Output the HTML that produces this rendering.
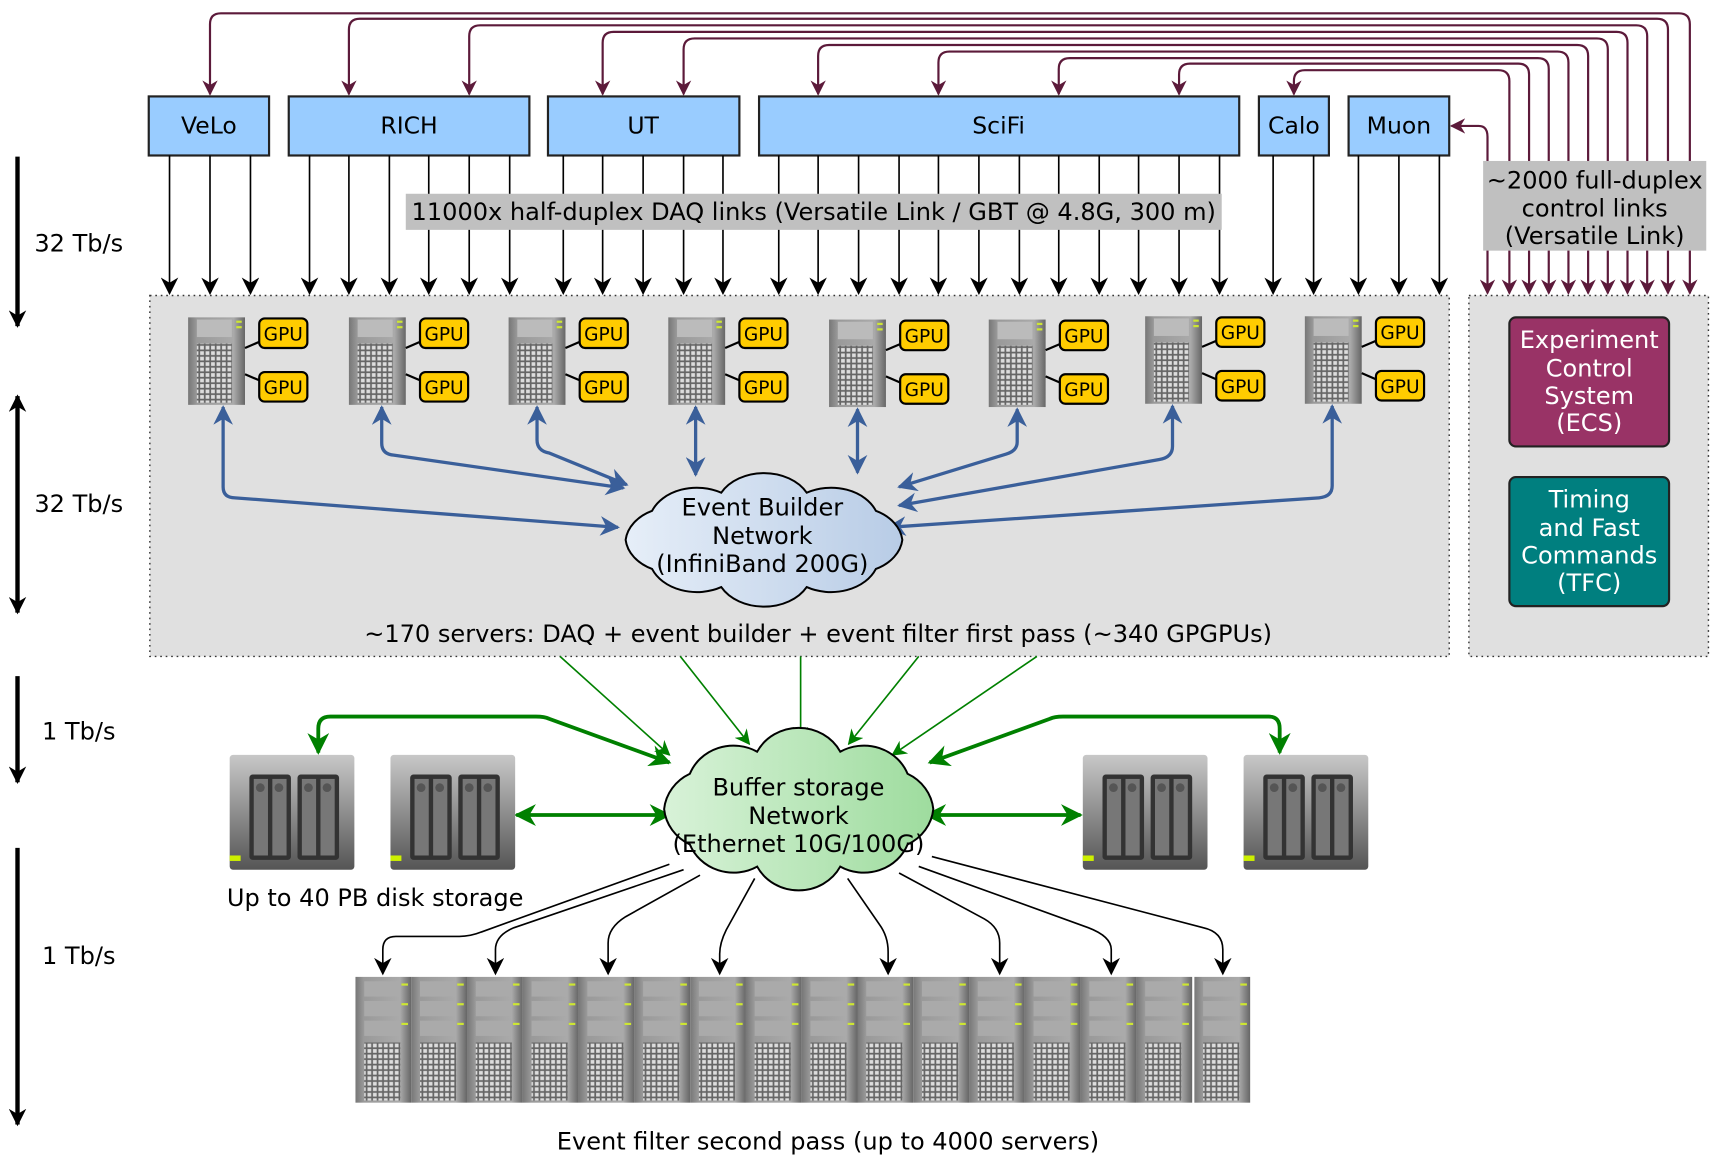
<!DOCTYPE html>
<html><head><meta charset="utf-8"><style>
html,body{margin:0;padding:0;background:#fff}
svg{display:block}
text{font-family:"DejaVu Sans","Liberation Sans",sans-serif;}
</style></head><body>
<svg width="1715" height="1163" viewBox="0 0 1568 1063" xmlns="http://www.w3.org/2000/svg">
<defs>
<marker id="abk" viewBox="0 0 10 10" refX="9" refY="5" markerWidth="16" markerHeight="16" orient="auto-start-reverse" markerUnits="userSpaceOnUse"><path d="M0,0 L10,5 L0,10 L3,5z" fill="#000"/></marker>
<marker id="ap" viewBox="0 0 10 10" refX="9" refY="5" markerWidth="14" markerHeight="14" orient="auto-start-reverse" markerUnits="userSpaceOnUse"><path d="M0,0 L10,5 L0,10 L3,5z" fill="#5c1a3a"/></marker>
<marker id="abl" viewBox="0 0 10 10" refX="9" refY="5" markerWidth="18" markerHeight="18" orient="auto-start-reverse" markerUnits="userSpaceOnUse"><path d="M0,0 L10,5 L0,10 L3,5z" fill="#3a5f9a"/></marker>
<marker id="ag" viewBox="0 0 10 10" refX="9" refY="5" markerWidth="20" markerHeight="20" orient="auto-start-reverse" markerUnits="userSpaceOnUse"><path d="M0,0 L10,5 L0,10 L3,5z" fill="#008000"/></marker>
<marker id="ags" viewBox="0 0 10 10" refX="9" refY="5" markerWidth="14" markerHeight="14" orient="auto-start-reverse" markerUnits="userSpaceOnUse"><path d="M0,0 L10,5 L0,10 L3,5z" fill="#008000"/></marker>
<linearGradient id="gb" x1="0" x2="1"><stop offset="0" stop-color="#e6eef8"/><stop offset="1" stop-color="#b8cce6"/></linearGradient>
<linearGradient id="gg" x1="0" x2="1"><stop offset="0" stop-color="#d8f2d8"/><stop offset="1" stop-color="#9edc9e"/></linearGradient>
<linearGradient id="gs" x1="0" x2="1"><stop offset="0" stop-color="#777"/><stop offset="0.15" stop-color="#999"/><stop offset="0.8" stop-color="#aaa"/><stop offset="1" stop-color="#666"/></linearGradient>
<linearGradient id="gd" x1="0" y1="0" x2="0" y2="1"><stop offset="0" stop-color="#c8c8c8"/><stop offset="1" stop-color="#555"/></linearGradient>
<pattern id="grid" width="5" height="5" patternUnits="userSpaceOnUse"><rect width="5" height="5" fill="#666"/><rect x="1" y="1" width="3.4" height="3.4" fill="#ddd"/></pattern>
<g id="srv">
<rect x="0" y="0" width="52" height="80" fill="url(#gs)"/>
<rect x="8" y="2" width="32" height="16" fill="#bbb"/>
<rect x="8" y="24" width="32" height="54" fill="url(#grid)"/>
<rect x="44" y="3" width="5" height="2" fill="#cde632"/><rect x="44" y="8" width="5" height="2" fill="#cde632"/>
</g>
<g id="srvb">
<rect x="0" y="0" width="51" height="115" fill="url(#gs)"/>
<rect x="8" y="4" width="33" height="14" fill="#aaa"/><rect x="8" y="22" width="33" height="14" fill="#aaa"/><rect x="8" y="40" width="33" height="14" fill="#aaa"/>
<rect x="8" y="60" width="33" height="53" fill="url(#grid)"/>
<rect x="42" y="6" width="6" height="2" fill="#cde632"/><rect x="42" y="24" width="6" height="2" fill="#cde632"/><rect x="42" y="42" width="6" height="2" fill="#cde632"/>
</g>
<g id="disk">
<rect x="0" y="0" width="114" height="105" rx="3" fill="url(#gd)"/>
<rect x="18" y="18" width="38" height="78" rx="3" fill="#333"/>
<rect x="62" y="18" width="38" height="78" rx="3" fill="#333"/>
<rect x="22" y="22" width="13" height="70" fill="#777"/><rect x="39" y="22" width="13" height="70" fill="#777"/>
<rect x="66" y="22" width="13" height="70" fill="#777"/><rect x="83" y="22" width="13" height="70" fill="#777"/>
<circle cx="28" cy="30" r="4" fill="#555"/><circle cx="45" cy="30" r="4" fill="#555"/><circle cx="72" cy="30" r="4" fill="#555"/><circle cx="89" cy="30" r="4" fill="#555"/>
<rect x="0" y="92" width="10" height="5" fill="#cdf000"/>
</g>
<g id="gpu">
<line x1="52" y1="28" x2="66" y2="22" stroke="#000" stroke-width="2"/>
<line x1="52" y1="52" x2="66" y2="58" stroke="#000" stroke-width="2"/>
<rect x="65" y="1" width="44" height="27" rx="5" fill="#ffcc00" stroke="#000" stroke-width="2"/>
<rect x="65" y="50" width="44" height="27" rx="5" fill="#ffcc00" stroke="#000" stroke-width="2"/>
<text x="87" y="21" font-size="17" text-anchor="middle">GPU</text>
<text x="87" y="70" font-size="17" text-anchor="middle">GPU</text>
</g>
<path id="cloud" d="M240,62 A40,40 0 0 1 218,94 A40,40 0 0 1 160.5,114 A40,40 0 0 1 89.5,114 A40,40 0 0 1 32,94 A40,40 0 0 1 10,62 A40,40 0 0 1 32,30 A40,40 0 0 1 89.5,10 A40,40 0 0 1 160.5,10 A40,40 0 0 1 218,30 A40,40 0 0 1 240,62 Z" vector-effect="non-scaling-stroke"/>
</defs>

<g fill="none" stroke="#5c1a3a" stroke-width="2">
<path d="M192,86 V22 Q192,12 202,12 H1535 Q1545,12 1545,22 V268" marker-start="url(#ap)" marker-end="url(#ap)"/>
<path d="M319,86 V27 Q319,17 329,17 H1515 Q1525,17 1525,27 V268" marker-start="url(#ap)" marker-end="url(#ap)"/>
<path d="M429,86 V33 Q429,23 439,23 H1496 Q1506,23 1506,33 V268" marker-start="url(#ap)" marker-end="url(#ap)"/>
<path d="M551,86 V39 Q551,29 561,29 H1478 Q1488,29 1488,39 V268" marker-start="url(#ap)" marker-end="url(#ap)"/>
<path d="M625,86 V45 Q625,35 635,35 H1460 Q1470,35 1470,45 V268" marker-start="url(#ap)" marker-end="url(#ap)"/>
<path d="M748,86 V51 Q748,41 758,41 H1442 Q1452,41 1452,51 V268" marker-start="url(#ap)" marker-end="url(#ap)"/>
<path d="M858,86 V57 Q858,47 868,47 H1424 Q1434,47 1434,57 V268" marker-start="url(#ap)" marker-end="url(#ap)"/>
<path d="M968,86 V63 Q968,53 978,53 H1406 Q1416,53 1416,63 V268" marker-start="url(#ap)" marker-end="url(#ap)"/>
<path d="M1078,86 V68 Q1078,58 1088,58 H1388 Q1398,58 1398,68 V268" marker-start="url(#ap)" marker-end="url(#ap)"/>
<path d="M1183,86 V74 Q1183,64 1193,64 H1370 Q1380,64 1380,74 V268" marker-start="url(#ap)" marker-end="url(#ap)"/>
<path d="M1327,115 H1352 Q1360,115 1360,125 V268" marker-start="url(#ap)" marker-end="url(#ap)"/>
</g>

<g fill="#99ccff" stroke="#222" stroke-width="2">
<rect x="136" y="88" width="110" height="54"/><rect x="264" y="88" width="220" height="54"/>
<rect x="501" y="88" width="175" height="54"/><rect x="694" y="88" width="439" height="54"/>
<rect x="1151" y="88" width="64" height="54"/><rect x="1233" y="88" width="92" height="54"/>
</g>
<g font-size="21.5" text-anchor="middle">
<text x="191" y="122">VeLo</text><text x="374" y="122">RICH</text><text x="588" y="122">UT</text>
<text x="913" y="122">SciFi</text><text x="1183" y="122">Calo</text><text x="1279" y="122">Muon</text>
</g>

<g stroke="#000" stroke-width="1.5" marker-end="url(#abk)">
<line x1="155" y1="142" x2="155" y2="268"/><line x1="192" y1="142" x2="192" y2="268"/><line x1="229" y1="142" x2="229" y2="268"/>
<line x1="283" y1="142" x2="283" y2="268"/><line x1="319" y1="142" x2="319" y2="268"/><line x1="356" y1="142" x2="356" y2="268"/><line x1="392" y1="142" x2="392" y2="268"/><line x1="429" y1="142" x2="429" y2="268"/><line x1="466" y1="142" x2="466" y2="268"/>
<line x1="515" y1="142" x2="515" y2="268"/><line x1="551" y1="142" x2="551" y2="268"/><line x1="588" y1="142" x2="588" y2="268"/><line x1="625" y1="142" x2="625" y2="268"/><line x1="661" y1="142" x2="661" y2="268"/>
<line x1="712" y1="142" x2="712" y2="268"/><line x1="748" y1="142" x2="748" y2="268"/><line x1="785" y1="142" x2="785" y2="268"/><line x1="822" y1="142" x2="822" y2="268"/><line x1="858" y1="142" x2="858" y2="268"/><line x1="895" y1="142" x2="895" y2="268"/><line x1="932" y1="142" x2="932" y2="268"/><line x1="968" y1="142" x2="968" y2="268"/><line x1="1005" y1="142" x2="1005" y2="268"/><line x1="1041" y1="142" x2="1041" y2="268"/><line x1="1078" y1="142" x2="1078" y2="268"/><line x1="1115" y1="142" x2="1115" y2="268"/>
<line x1="1164" y1="142" x2="1164" y2="268"/><line x1="1201" y1="142" x2="1201" y2="268"/>
<line x1="1242" y1="142" x2="1242" y2="268"/><line x1="1279" y1="142" x2="1279" y2="268"/><line x1="1316" y1="142" x2="1316" y2="268"/>
</g>
<rect x="371" y="177" width="746" height="33" fill="#c0c0c0"/>
<text x="744" y="201" font-size="22" text-anchor="middle">11000x half-duplex DAQ links (Versatile Link / GBT @ 4.8G, 300 m)</text>
<rect x="1356" y="147" width="204" height="82" fill="#c0c0c0"/>
<g font-size="22" text-anchor="middle"><text x="1458" y="172">~2000 full-duplex</text><text x="1458" y="198">control links</text><text x="1458" y="223">(Versatile Link)</text></g>

<rect x="137" y="270" width="1188" height="330" fill="#e0e0e0" stroke="#333" stroke-width="1.3" stroke-dasharray="1.5,3.5"/>
<rect x="1343" y="270" width="219" height="330" fill="#e0e0e0" stroke="#333" stroke-width="1.3" stroke-dasharray="1.5,3.5"/>
<rect x="1380" y="290" width="146" height="118" rx="6" fill="#993366" stroke="#222" stroke-width="2"/>
<g font-size="22" text-anchor="middle" fill="#fff"><text x="1453" y="318">Experiment</text><text x="1453" y="344">Control</text><text x="1453" y="369">System</text><text x="1453" y="394">(ECS)</text></g>
<rect x="1380" y="436" width="146" height="118" rx="6" fill="#007f7f" stroke="#222" stroke-width="2"/>
<g font-size="22" text-anchor="middle" fill="#fff"><text x="1453" y="464">Timing</text><text x="1453" y="490">and Fast</text><text x="1453" y="515">Commands</text><text x="1453" y="540">(TFC)</text></g>

<g transform="translate(172,290)"><use href="#srv"/><use href="#gpu"/></g>
<g transform="translate(319,290)"><use href="#srv"/><use href="#gpu"/></g>
<g transform="translate(465,290)"><use href="#srv"/><use href="#gpu"/></g>
<g transform="translate(611,290)"><use href="#srv"/><use href="#gpu"/></g>
<g transform="translate(758,292)"><use href="#srv"/><use href="#gpu"/></g>
<g transform="translate(904,292)"><use href="#srv"/><use href="#gpu"/></g>
<g transform="translate(1047,289)"><use href="#srv"/><use href="#gpu"/></g>
<g transform="translate(1193,289)"><use href="#srv"/><use href="#gpu"/></g>

<g fill="none" stroke="#3a5f9a" stroke-width="3" marker-start="url(#abl)" marker-end="url(#abl)">
<path d="M204,372 V445 Q204,455 215,455 L565,482"/>
<path d="M349,372 V405 Q349,415 360,416 L570,446"/>
<path d="M491,372 V402 Q491,412 502,414 L573,443"/>
<path d="M636,372 V434"/>
<path d="M784,374 V432"/>
<path d="M930,374 V404 Q930,412 920,415 L822,445"/>
<path d="M1072,371 V408 Q1072,418 1060,420 L822,462"/>
<path d="M1218,371 V444 Q1218,454 1206,455 L812,482"/>
</g>
<use href="#cloud" transform="translate(561,442) scale(1.1,0.83)" fill="url(#gb)" stroke="#000" stroke-width="2"/>
<g font-size="22" text-anchor="middle"><text x="697" y="471">Event Builder</text><text x="697" y="497">Network</text><text x="697" y="523">(InfiniBand 200G)</text></g>
<text x="748" y="587" font-size="22" text-anchor="middle">~170 servers: DAQ + event builder + event filter first pass (~340 GPGPUs)</text>

<g stroke="#000" stroke-width="4">
<line x1="16" y1="143" x2="16" y2="298" marker-end="url(#abk)"/>
<line x1="16" y1="362" x2="16" y2="560" marker-start="url(#abk)" marker-end="url(#abk)"/>
<line x1="16" y1="618" x2="16" y2="715" marker-end="url(#abk)"/>
<line x1="16" y1="775" x2="16" y2="1028" marker-end="url(#abk)"/>
</g>
<g font-size="22" text-anchor="middle"><text x="72" y="230">32 Tb/s</text><text x="72" y="468">32 Tb/s</text><text x="72" y="676">1 Tb/s</text><text x="72" y="881">1 Tb/s</text></g>

<g stroke="#008000" stroke-width="1.5" marker-end="url(#ags)">
<line x1="512" y1="600" x2="612" y2="690"/><line x1="622" y1="600" x2="685" y2="680"/><line x1="732" y1="600" x2="732" y2="677"/><line x1="840" y1="600" x2="776" y2="680"/><line x1="948" y1="600" x2="816" y2="690"/>
</g>
<g fill="none" stroke="#008000" stroke-width="3.5" marker-start="url(#ag)" marker-end="url(#ag)">
<path d="M612,697 L502,657 Q498,655 490,655 H302 Q291,655 291,666 V688"/>
<path d="M850,697 L960,657 Q964,655 972,655 H1160 Q1170,655 1170,666 V688"/>
<path d="M472,745 H612"/>
<path d="M847,745 H988"/>
</g>
<use href="#disk" x="210" y="690"/><use href="#disk" x="357" y="690"/><use href="#disk" x="990" y="690"/><use href="#disk" x="1137" y="690"/>
<use href="#cloud" transform="translate(596.5,677) scale(1.07,1.01)" fill="url(#gg)" stroke="#000" stroke-width="2"/>
<g font-size="22" text-anchor="middle"><text x="730" y="727">Buffer storage</text><text x="730" y="753">Network</text><text x="730" y="779">(Ethernet 10G/100G)</text></g>
<text x="343" y="828" font-size="22" text-anchor="middle">Up to 40 PB disk storage</text>

<g fill="none" stroke="#000" stroke-width="1.5" marker-end="url(#abk)">
<path d="M612,790 L440,852 Q430,856 420,856 H362 Q350,856 350,868 V890"/>
<path d="M625,795 L470,848 Q453,855 453,868 V890"/>
<path d="M640,800 L572,838 Q556,848 556,862 V890"/>
<path d="M690,803 L664,850 Q658,862 658,872 V890"/>
<path d="M775,803 L804,845 Q812,856 812,870 V890"/>
<path d="M822,798 L900,840 Q914,848 914,862 V890"/>
<path d="M840,792 L995,848 Q1016,856 1016,868 V890"/>
<path d="M852,783 L1100,848 Q1118,852 1118,868 V890"/>
</g>
<g>
<use href="#srvb" x="325" y="893"/><use href="#srvb" x="376" y="893"/><use href="#srvb" x="427" y="893"/><use href="#srvb" x="478" y="893"/>
<use href="#srvb" x="529" y="893"/><use href="#srvb" x="580" y="893"/><use href="#srvb" x="631" y="893"/><use href="#srvb" x="682" y="893"/>
<use href="#srvb" x="733" y="893"/><use href="#srvb" x="784" y="893"/><use href="#srvb" x="835" y="893"/><use href="#srvb" x="886" y="893"/>
<use href="#srvb" x="937" y="893"/><use href="#srvb" x="988" y="893"/><use href="#srvb" x="1039" y="893"/><use href="#srvb" x="1092" y="893"/>
</g>
<text x="757" y="1051" font-size="22" text-anchor="middle">Event filter second pass (up to 4000 servers)</text>
</svg>
</body></html>
